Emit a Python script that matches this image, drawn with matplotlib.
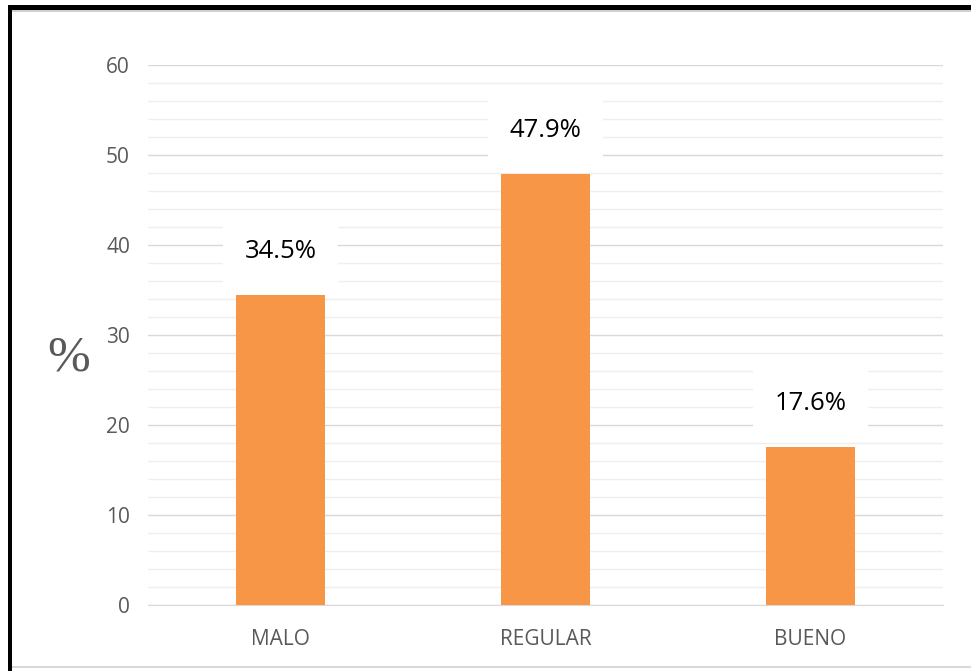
import numpy as np
import matplotlib
matplotlib.use("Agg")
import matplotlib.pyplot as plt
from matplotlib.patches import Rectangle
from matplotlib.ticker import MultipleLocator

categories = ["MALO", "REGULAR", "BUENO"]
values = [34.5, 47.9, 17.6]
labels = ["34.5%", "47.9%", "17.6%"]

plt.rcParams["font.family"] = ["Open Sans", "DejaVu Sans"]

W, H = 971, 671
fig = plt.figure(figsize=(W / 100, H / 100), dpi=100)
fig.patch.set_facecolor("white")

# plot area in pixels: x 148..943, y 65..605
ax = fig.add_axes([148 / W, 1 - 605 / H, (943 - 148) / W, (605 - 65) / H])

x = np.arange(len(categories))
ax.bar(x, values, width=0.333, color="#F79646", zorder=3)

ax.set_xlim(-0.5, 2.5)
ax.set_ylim(0, 60)
ax.yaxis.set_major_locator(MultipleLocator(10))
ax.yaxis.set_minor_locator(MultipleLocator(2))
ax.grid(axis="y", which="major", color="#D9D9D9", linewidth=1.0, zorder=0)
ax.grid(axis="y", which="minor", color="#EFEFEF", linewidth=1.0, zorder=0)
for s in ["top", "right", "left"]:
    ax.spines[s].set_visible(False)
ax.spines["bottom"].set_color("#D9D9D9")
ax.tick_params(axis="both", which="both", length=0, labelsize=15, labelcolor="#595959")
ax.tick_params(axis="y", pad=13)
ax.tick_params(axis="x", pad=17)
ax.set_xticks(x)
ax.set_xticklabels(categories)

for xi, v, lab in zip(x, values, labels):
    ax.text(xi, v + 4.8, lab, ha="center", va="center", fontsize=18.5, color="black",
            zorder=4, bbox=dict(boxstyle="square,pad=0.85", facecolor="white", edgecolor="none"))

fig.text(69 / W, 1 - 358 / H, "%", family="Liberation Serif", fontsize=37,
         color="#595959", ha="center", va="center")

# border of the pasted picture
fig.patches.append(Rectangle((8 / W, 0), 4 / W, 1 - 5 / H, transform=fig.transFigure,
                             facecolor="black", edgecolor="none"))
fig.patches.append(Rectangle((8 / W, 1 - 10 / H), 1, 5 / H, transform=fig.transFigure,
                             facecolor="black", edgecolor="none"))
fig.patches.append(Rectangle((12 / W, 1 - 668 / H), 1, 2 / H, transform=fig.transFigure,
                             facecolor="#D9D9D9", edgecolor="none"))
fig.patches.append(Rectangle((12 / W, 1 - 12 / H), 1, 2 / H, transform=fig.transFigure,
                             facecolor="#D0D0D0", edgecolor="none"))

fig.savefig("out.png", dpi=100)
